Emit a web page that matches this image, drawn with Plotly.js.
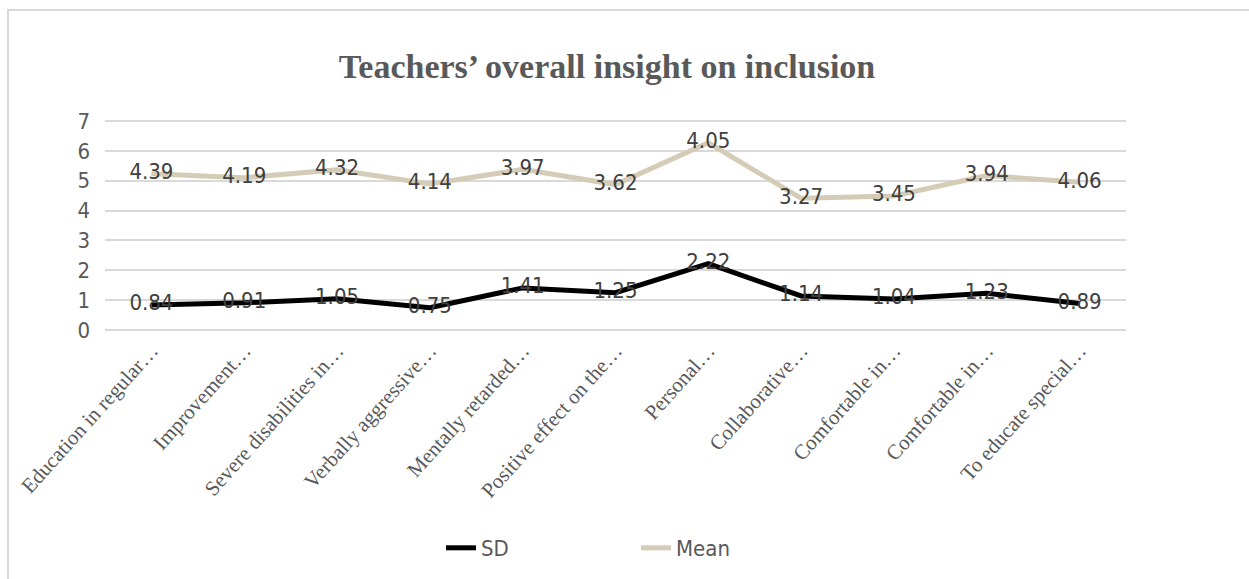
<!DOCTYPE html>
<html>
<head>
<meta charset="utf-8">
<script src="https://cdn.plot.ly/plotly-3.0.1.min.js"></script>
<style>
  html, body { margin: 0; padding: 0; background: #fff; overflow: hidden; }
  #wrap { position: relative; width: 1249px; height: 579px; }
  #chart { position: absolute; left: 0; top: 0; width: 1249px; height: 579px; }
  #frame { position: absolute; left: 7px; top: 9px; width: 1300px; height: 620px;
           border-top: 2px solid #d9d9d9; border-left: 2px solid #d9d9d9; pointer-events: none; }
</style>
</head>
<body>
<div id="wrap">
  <div id="chart"></div>
  <div id="frame"></div>
</div>
<script>
const categories = [
  "Education in regular…",
  "Improvement…",
  "Severe disabilities in…",
  "Verbally aggressive…",
  "Mentally retarded…",
  "Positive effect on the…",
  "Personal…",
  "Collaborative…",
  "Comfortable in…",
  "Comfortable in…",
  "To educate special…"
];
const sdValues   = [0.84, 0.91, 1.05, 0.75, 1.41, 1.25, 2.22, 1.14, 1.04, 1.23, 0.89];
const meanValues = [4.39, 4.19, 4.32, 4.14, 3.97, 3.62, 4.05, 3.27, 3.45, 3.94, 4.06];
const yTicks = [0, 1, 2, 3, 4, 5, 6, 7];

const idx = categories.map((_, i) => i);
const labelFont = {family: "DejaVu Sans Condensed, DejaVu Sans, Verdana, sans-serif", size: 22, color: "#404040"};

const traces = [
  {
    name: "SD", x: idx, y: sdValues, type: "scatter", mode: "lines+text",
    stackgroup: "one", fill: "none",
    line: {color: "#000000", width: 5},
    text: sdValues.map(v => v.toFixed(2)), textposition: "middle center",
    textfont: labelFont, cliponaxis: false, hoverinfo: "x+text"
  },
  {
    name: "Mean", x: idx, y: meanValues, type: "scatter", mode: "lines+text",
    stackgroup: "one", fill: "none",
    line: {color: "#D5CCB7", width: 5},
    text: meanValues.map(v => v.toFixed(2)), textposition: "middle center",
    textfont: labelFont, cliponaxis: false, hoverinfo: "x+text"
  }
];

const layout = {
  width: 1249, height: 579,
  margin: {l: 105, r: 123, t: 118, b: 245},
  paper_bgcolor: "rgba(0,0,0,0)", plot_bgcolor: "rgba(0,0,0,0)",
  title: {
    text: "<b>Teachers’ overall insight on inclusion</b>",
    font: {family: "Liberation Serif, Times New Roman, serif", size: 34, color: "#595959"},
    x: 607 / 1249, xanchor: "center", xref: "container",
    y: 1 - 66 / 579, yanchor: "middle", yref: "container"
  },
  xaxis: {
    type: "linear", range: [-0.5, 10.5],
    tickmode: "array", tickvals: idx, ticktext: categories,
    tickangle: -48, showgrid: false, zeroline: false, showline: false, ticks: "",
    tickfont: {family: "Liberation Serif, Times New Roman, serif", size: 21, color: "#595959"},
    fixedrange: true
  },
  yaxis: {
    range: [-0.1, 7.1], tickmode: "array", tickvals: yTicks, ticktext: yTicks.map(String),
    showgrid: true, gridcolor: "#d9d9d9", gridwidth: 2, zeroline: false, showline: false,
    ticks: "", ticklabelstandoff: 14,
    tickfont: {family: "DejaVu Sans Condensed, DejaVu Sans, Verdana, sans-serif", size: 22, color: "#595959"},
    fixedrange: true
  },
  showlegend: true,
  legend: {
    orientation: "h", x: (636 - 105) / 1021, xanchor: "center",
    y: (334 - 548) / 216, yanchor: "middle",
    font: {family: "DejaVu Sans Condensed, DejaVu Sans, Verdana, sans-serif", size: 22, color: "#595959"},
    traceorder: "normal", entrywidth: 150
  }
};

Plotly.newPlot("chart", traces, layout, {displayModeBar: false, staticPlot: true});
</script>
</body>
</html>
